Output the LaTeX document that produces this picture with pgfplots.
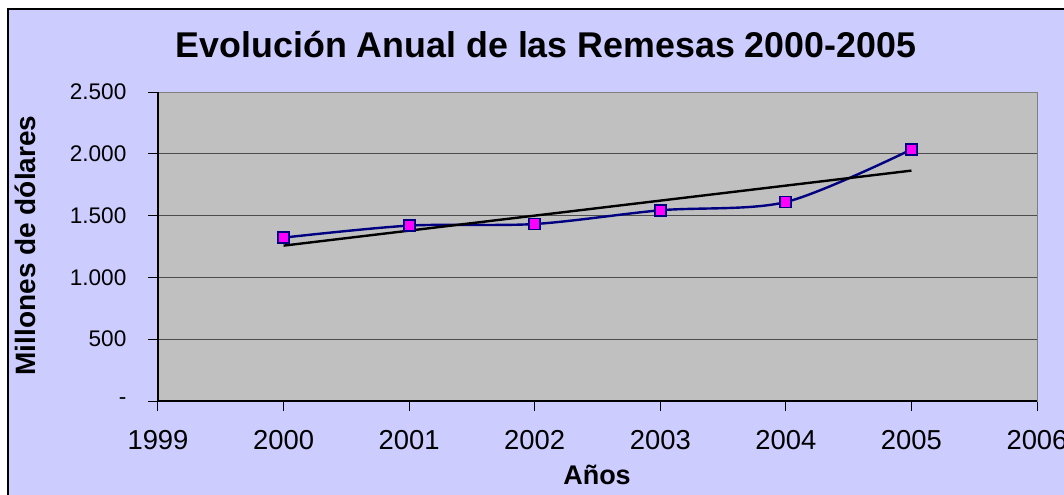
\documentclass[border=0pt]{standalone}
\usepackage{fontspec}
\setmainfont{Liberation Sans}
\usepackage{pgfplots}
\pgfplotsset{compat=1.18}
\definecolor{bglav}{HTML}{CCCCFF}
\definecolor{plotgray}{HTML}{C0C0C0}
\definecolor{navyline}{HTML}{000080}
\definecolor{magentam}{HTML}{FF00FF}
\begin{document}
\begin{tikzpicture}[x=1pt,y=1pt]
\useasboundingbox (-79,-46.5) rectangle (453,200.5);
\fill[white] (-79,-46.5) rectangle (453,200.5);
\filldraw[fill=bglav,draw=black,line width=0.6pt] (-75,196) rectangle (470,-60);
\begin{axis}[
  at={(0,0)}, anchor=south west, scale only axis,
  width=439.5pt, height=154.5pt,
  xmin=1999, xmax=2006, ymin=0, ymax=2500,
  xtick={1999,2000,2001,2002,2003,2004,2005,2006},
  ytick={0,500,1000,1500,2000,2500},
  yticklabels={-,500,1.000,1.500,2.000,2.500},
  /pgf/number format/1000 sep={},
  /pgf/number format/assume math mode=true,
  yticklabel style={font=\fontsize{11.3}{13}\selectfont, xshift=-7.3pt},
  xticklabel style={font=\fontsize{13.7}{16}\selectfont, yshift=-6.3pt},
  axis background/.style={fill=plotgray},
  axis line style={draw=black!50, line width=0.5pt},
  ymajorgrids, grid style={draw=black!70, line width=0.5pt},
  tick style={black, line width=0.5pt},
  major tick length=5pt, tick align=outside,
  xtick pos=bottom, ytick pos=left,
  clip=false,
]
\addplot[navyline, line width=1.2pt, smooth, tension=0.5, mark=square*,
  mark options={fill=magentam, draw=navyline, line width=0.9pt, solid}, mark size=2.75pt]
  coordinates {(2000,1322) (2001,1419) (2002,1432) (2003,1543) (2004,1610) (2005,2035)};
\addplot[black, line width=1.2pt] coordinates {(2000,1257) (2005,1864)};
\draw[black, line width=0.6pt] (rel axis cs:0,1) -- (rel axis cs:0,0) -- (rel axis cs:1,0);
\end{axis}
\node[anchor=base, font=\bfseries\fontsize{17.9}{21}\selectfont] at (194,171.9) {Evolución Anual de las Remesas 2000-2005};
\node[rotate=90, anchor=base, font=\bfseries\fontsize{14}{17}\selectfont] at (-61.15,77.75) {Millones de dólares};
\node[anchor=base, font=\bfseries\fontsize{13.5}{16}\selectfont] at (219.5,-41.65) {Años};
\end{tikzpicture}
\end{document}
